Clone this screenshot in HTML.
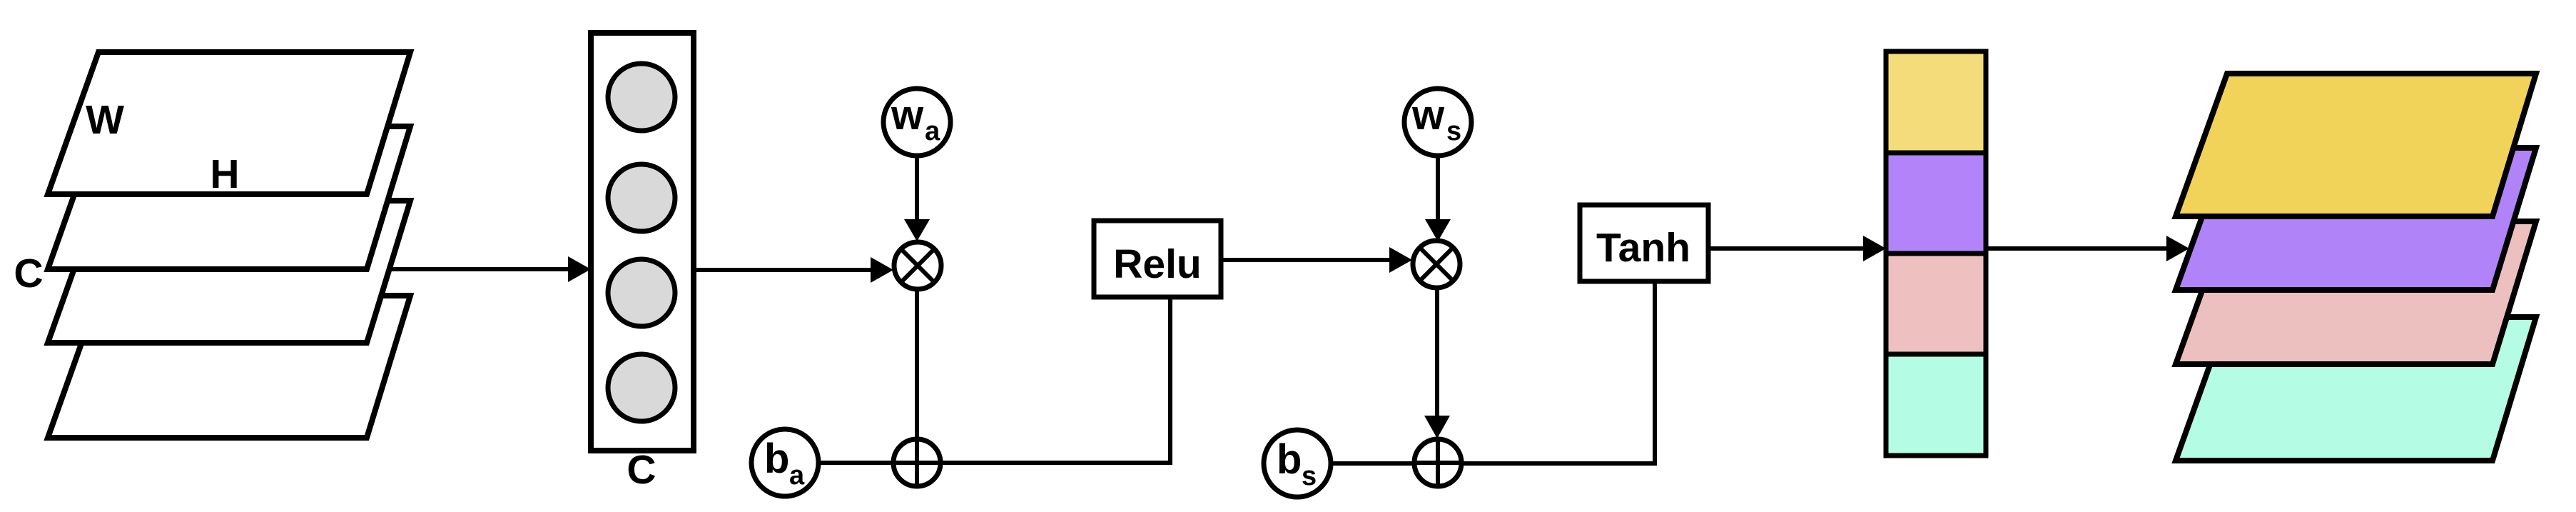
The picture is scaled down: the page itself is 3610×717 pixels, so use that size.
<!DOCTYPE html>
<html><head><meta charset="utf-8"><style>html,body{margin:0;padding:0;background:#fff}svg{display:block}</style></head>
<body>
<svg width="3610" height="717" viewBox="0 0 3610 717" xmlns="http://www.w3.org/2000/svg" font-family="Liberation Sans, sans-serif" font-weight="bold">
<g fill="#fff" stroke="#000" stroke-width="8" stroke-linejoin="miter">
<polygon points="138,414 575,414 514,613 67,613"/>
<polygon points="138,281 575,281 514,480 67,480"/>
<polygon points="138,177 575,177 514,377 67,377"/>
<polygon points="138,73 575,73 514,272 67,272"/>
</g>
<text x="147" y="187" font-size="57" text-anchor="middle">W</text>
<text x="315" y="263" font-size="57" text-anchor="middle">H</text>
<text x="40" y="402" font-size="57" text-anchor="middle">C</text>
<g stroke="#000" stroke-width="6" fill="none">
<line x1="549" y1="377" x2="800" y2="377"/>
<line x1="972" y1="378" x2="1222" y2="378"/>
<line x1="1285" y1="218" x2="1285" y2="310"/>
<line x1="1285" y1="405" x2="1285" y2="682"/>
<polyline points="1147,648 1640,648 1640,416"/>
<line x1="1711" y1="364" x2="1950" y2="364"/>
<line x1="2015" y1="218" x2="2015" y2="310"/>
<line x1="2014" y1="402" x2="2014" y2="590"/>
<polyline points="1866,649 2319,649 2319,394"/>
<line x1="2394" y1="348" x2="2620" y2="348"/>
<line x1="2783" y1="348" x2="3040" y2="348"/>
</g>
<g fill="#000">
<polygon points="828,377 796,359 796,395"/>
<polygon points="1252,378 1220,360 1220,396"/>
<polygon points="1285,338 1267,307 1303,307"/>
<polygon points="1979,364 1947,346 1947,382"/>
<polygon points="2015,338 1997,307 2033,307"/>
<polygon points="2014,614 1996,582 2032,582"/>
<polygon points="2643,348 2611,330 2611,366"/>
<polygon points="3068,348 3036,330 3036,366"/>
</g>
<rect x="828" y="46" width="144" height="585" fill="#fff" stroke="#000" stroke-width="8"/>
<g fill="#d9d9d9" stroke="#000" stroke-width="7">
<circle cx="899" cy="136" r="47"/>
<circle cx="899" cy="277" r="47"/>
<circle cx="899" cy="410" r="47"/>
<circle cx="899" cy="543" r="47"/>
</g>
<text x="899" y="677" font-size="57" text-anchor="middle">C</text>
<g fill="#fff" stroke="#000" stroke-width="7">
<circle cx="1285" cy="171" r="47"/>
<circle cx="2015" cy="171" r="47"/>
<circle cx="1100" cy="648" r="47"/>
<circle cx="1818" cy="649" r="47"/>
<circle cx="1286" cy="372" r="33"/>
<circle cx="2013" cy="370" r="33"/>
<circle cx="1285" cy="648" r="33"/>
<circle cx="2015" cy="648" r="33"/>
<rect x="1533" y="309" width="178" height="107"/>
<rect x="2214" y="287" width="180" height="107"/>
</g>
<g stroke="#000" stroke-width="6">
<line x1="1263" y1="349" x2="1309" y2="395"/><line x1="1309" y1="349" x2="1263" y2="395"/>
<line x1="1990" y1="347" x2="2036" y2="393"/><line x1="2036" y1="347" x2="1990" y2="393"/>
<line x1="1252" y1="648" x2="1318" y2="648"/><line x1="1285" y1="615" x2="1285" y2="681"/>
<line x1="1982" y1="648" x2="2048" y2="648"/><line x1="2015" y1="615" x2="2015" y2="681"/>
</g>
<g font-size="58">
<text x="1249" y="181">w</text><text x="1296" y="196" font-size="38">a</text>
<text x="1979" y="181">w</text><text x="2027" y="196" font-size="38">s</text>
<text x="1071" y="662">b</text><text x="1106" y="678" font-size="38">a</text>
<text x="1789" y="663">b</text><text x="1824" y="679" font-size="38">s</text>
</g>
<g font-size="57">
<text x="1622" y="389" text-anchor="middle">Relu</text>
<text x="2303" y="366" text-anchor="middle">Tanh</text>
</g>
<g stroke="#000" stroke-width="7">
<rect x="2643" y="72" width="140" height="142" fill="#f4dc7a"/>
<rect x="2643" y="214" width="140" height="141" fill="#b283f9"/>
<rect x="2643" y="355" width="140" height="141" fill="#efc0c0"/>
<rect x="2643" y="496" width="140" height="142" fill="#b5fce4"/>
</g>
<g stroke="#000" stroke-width="8">
<polygon points="3121,444 3554,444 3493,645 3049,645" fill="#b5fce4"/>
<polygon points="3121,310 3554,310 3493,510 3049,510" fill="#edc0c0"/>
<polygon points="3121,207 3554,207 3493,406 3049,406" fill="#b183f8"/>
<polygon points="3121,103 3554,103 3493,303 3049,303" fill="#f2d35a"/>
</g>
</svg>
</body></html>
